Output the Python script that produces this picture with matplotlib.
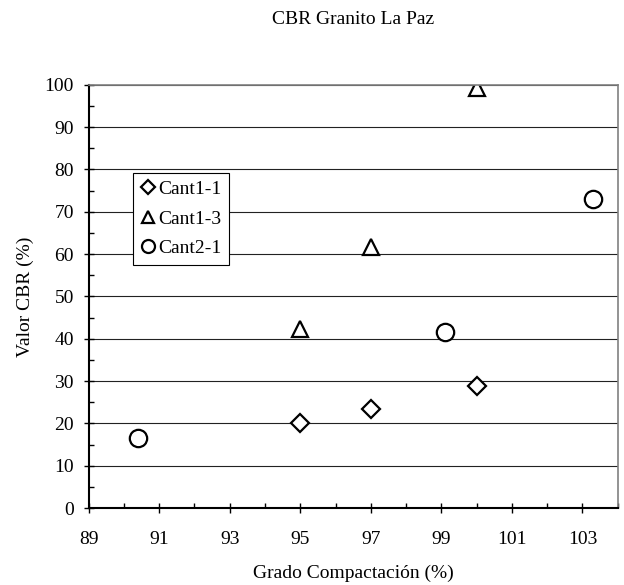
import numpy as np
import matplotlib.pyplot as plt
from matplotlib.ticker import MultipleLocator

plt.rcParams['font.family'] = ['Liberation Serif', 'DejaVu Serif']

# datos
cant11_x = [95, 97, 100]
cant11_y = [20.0, 23.4, 28.8]
cant13_x = [95, 97, 100]
cant13_y = [42.4, 61.6, 99.2]
cant21_x = [90.4, 99.1, 103.3]
cant21_y = [16.6, 41.5, 73.0]

fig = plt.figure(figsize=(6.24, 5.85), dpi=100)
ax = fig.add_axes([0.142, 0.1316, 0.848, 0.7234])

ax.plot(cant11_x, cant11_y, ls='none', marker='D', ms=9.5, mfc='white', mec='black', mew=1.6, label='Cant1-1')
ax.plot(cant13_x, cant13_y, ls='none', marker='^', ms=11.5, mfc='white', mec='black', mew=1.6, label='Cant1-3')
ax.plot(cant21_x, cant21_y, ls='none', marker='o', ms=12.5, mfc='white', mec='black', mew=1.6, label='Cant2-1')

ax.set_xlim(89, 104)
ax.set_ylim(0, 100)
ax.xaxis.set_minor_locator(MultipleLocator(1))
ax.yaxis.set_major_locator(MultipleLocator(10))
ax.yaxis.set_minor_locator(MultipleLocator(5))
ax.set_xticks(np.arange(89, 105, 2))

ax.grid(axis='y', which='major', color='#222222', lw=0.8)
ax.set_axisbelow(True)
ax.tick_params(which='major', direction='inout', length=7, width=1, labelsize=14)
ax.tick_params(axis='x', which='major', pad=13)
ax.tick_params(axis='y', which='major', pad=7)
ax.tick_params(which='minor', direction='in', length=3.5, width=1)

for s in ['left', 'bottom']:
    ax.spines[s].set_linewidth(1.5)
    ax.spines[s].set_color('black')
for s in ['top', 'right']:
    ax.spines[s].set_linewidth(1.2)
    ax.spines[s].set_color('#808080')

ax.set_title('CBR Granito La Paz', fontsize=14, pad=44)
ax.set_xlabel('Grado Compactación (%)', fontsize=14, labelpad=12)
ax.set_ylabel('Valor CBR (%)', fontsize=14, labelpad=8)

leg = ax.legend(loc='upper left', bbox_to_anchor=(0.084, 0.792), fontsize=14,
                frameon=True, fancybox=False, framealpha=1, edgecolor='black',
                handlelength=0.7, handletextpad=0.2, borderpad=0.4, labelspacing=0.6,
                borderaxespad=0, markerscale=0.75)
leg.get_frame().set_linewidth(0.8)

fig.savefig('out.png', dpi=100)
